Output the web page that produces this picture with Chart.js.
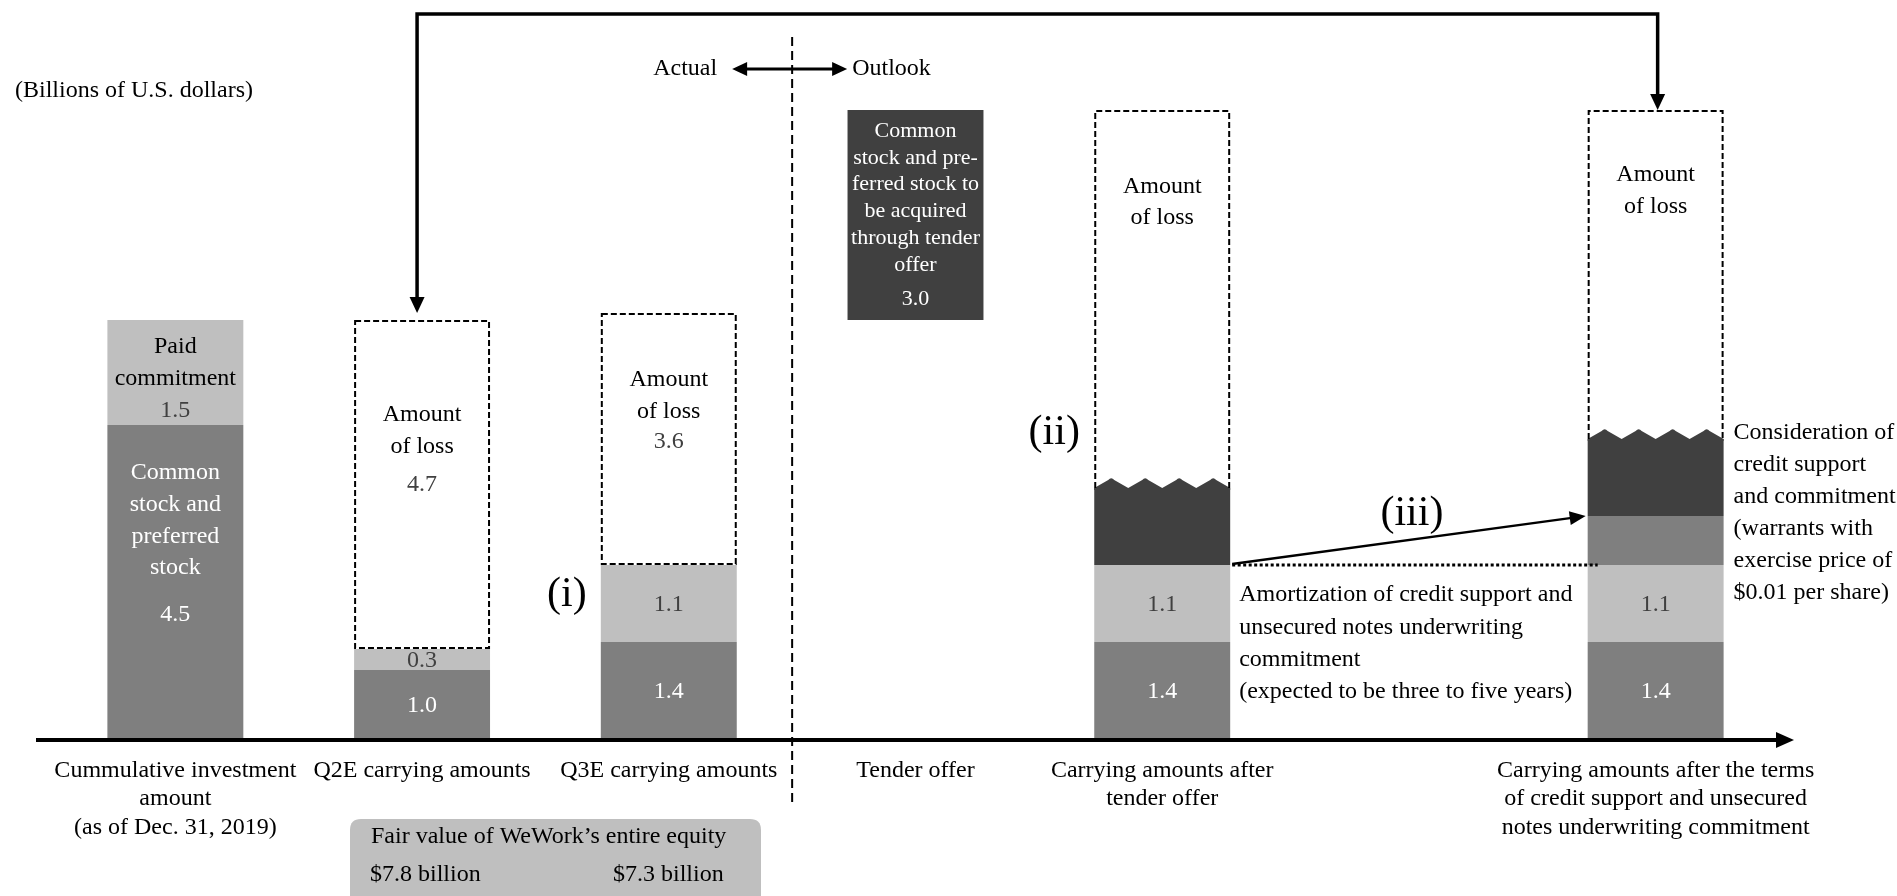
<!DOCTYPE html>
<html>
<head>
<meta charset="utf-8">
<script src="https://cdn.jsdelivr.net/npm/chart.js@4.4.1/dist/chart.umd.min.js"></script>
<style>
  html, body { margin: 0; padding: 0; background: #ffffff; }
  #wrap { width: 1897px; height: 896px; position: relative; }
</style>
</head>
<body>
<div id="wrap"><canvas id="chart"></canvas></div>
<script>
// Columns along the x axis (index 5 is an empty slot between the two outlook columns)
const categories = [
  ['Cummulative investment', 'amount', '(as of Dec. 31, 2019)'],
  'Q2E carrying amounts',
  'Q3E carrying amounts',
  'Tender offer',
  ['Carrying amounts after', 'tender offer'],
  '',
  ['Carrying amounts after the terms', 'of credit support and unsecured', 'notes underwriting commitment']
];

// Billions of U.S. dollars, stacked bottom to top in this order
const commonPreferred = [4.5, 1.0, 1.4, null, 1.4, null, 1.4];
const paidCommitment  = [1.5, 0.3, 1.1, null, 1.1, null, 1.1];
const warrantValue    = [null, null, null, null, null, null, 0.7];
const tenderStock     = [null, null, null, 3.0, 1.1, null, 1.1];
const lossAmount      = [null, 4.7, 3.6, null, 5.4, null, 4.7];

// The tender offer column sits on top of the investment made so far
const tenderBase = 6.0;
const tenderCol = 3;

// Fair value of WeWork's entire equity (Q2E, Q3E)
const fairValues = ['$7.8 billion', '$7.3 billion'];

const seriesOrder = [commonPreferred, paidCommitment, warrantValue, tenderStock, lossAmount];
const seriesColors = ['#7f7f7f', '#bfbfbf', '#7f7f7f', '#404040', 'rgba(0,0,0,0)'];
const seriesNames = ['Common stock and preferred stock', 'Paid commitment', 'Warrants', 'Stock acquired through tender offer', 'Amount of loss'];

// Turn the stacked values into floating [start, end] ranges per column
const ranges = seriesOrder.map(() => []);
for (let c = 0; c < categories.length; c++) {
  let start = c === tenderCol ? tenderBase : 0;
  seriesOrder.forEach((arr, s) => {
    const v = arr[c];
    if (v === null || v === undefined) { ranges[s].push(null); return; }
    const end = Math.round((start + v) * 100) / 100;
    ranges[s].push([start, end]);
    start = end;
  });
}

const SERIF = '"Liberation Serif", "Times New Roman", serif';
const DS = { common: 0, paid: 1, warrant: 2, tender: 3, loss: 4 };

function seg(chart, ds, col) {
  const el = chart.getDatasetMeta(ds).data[col];
  const p = el.getProps(['x', 'y', 'base', 'width'], true);
  return { x: p.x, top: Math.min(p.y, p.base), bottom: Math.max(p.y, p.base),
           left: p.x - p.width / 2, right: p.x + p.width / 2, w: p.width };
}

function drawText(ctx, s, x, y, size, color, align) {
  ctx.font = size + 'px ' + SERIF;
  ctx.fillStyle = color;
  ctx.textAlign = align || 'center';
  ctx.textBaseline = 'middle';
  ctx.fillText(s, x, y);
}

function arrowHead(ctx, tipX, tipY, angle, len, half) {
  ctx.save();
  ctx.translate(tipX, tipY);
  ctx.rotate(angle);
  ctx.beginPath();
  ctx.moveTo(0, 0);
  ctx.lineTo(-len, -half);
  ctx.lineTo(-len, half);
  ctx.closePath();
  ctx.fillStyle = '#000';
  ctx.fill();
  ctx.restore();
}

const fmt = v => v.toFixed(1);

// Text blocks written inside the bars: first line offset from the segment top, then line gaps
const barNotes = [
  { col: 0, ds: DS.paid, dy: 27, lines: [['Paid', '#000'], ['commitment', '#000'], [fmt(paidCommitment[0]), '#404040']], gaps: [32, 32] },
  { col: 0, ds: DS.common, dy: 48, lines: [['Common', '#fff'], ['stock and', '#fff'], ['preferred', '#fff'], ['stock', '#fff'], [fmt(commonPreferred[0]), '#fff']], gaps: [32, 32, 31, 47] },
  { col: 1, ds: DS.loss, dy: 95, lines: [['Amount', '#000'], ['of loss', '#000'], [fmt(lossAmount[1]), '#404040']], gaps: [32, 38] },
  { col: 2, ds: DS.loss, dy: 67, lines: [['Amount', '#000'], ['of loss', '#000'], [fmt(lossAmount[2]), '#404040']], gaps: [32, 30] },
  { col: 3, ds: DS.tender, dy: 21, size: 22, lines: [['Common', '#fff'], ['stock and pre-', '#fff'], ['ferred stock to', '#fff'], ['be acquired', '#fff'], ['through tender', '#fff'], ['offer', '#fff'], [fmt(tenderStock[3]), '#fff']], gaps: [26.8, 26.8, 26.8, 26.8, 26.8, 34] },
  { col: 4, ds: DS.loss, dy: 77, lines: [['Amount', '#000'], ['of loss', '#000']], gaps: [31] },
  { col: 6, ds: DS.loss, dy: 65, lines: [['Amount', '#000'], ['of loss', '#000']], gaps: [32] }
];

// Single values centred in their segment
const centredValues = [
  { col: 1, ds: DS.paid, arr: paidCommitment, color: '#404040' },
  { col: 1, ds: DS.common, arr: commonPreferred, color: '#fff' },
  { col: 2, ds: DS.paid, arr: paidCommitment, color: '#404040' },
  { col: 2, ds: DS.common, arr: commonPreferred, color: '#fff' },
  { col: 4, ds: DS.paid, arr: paidCommitment, color: '#404040' },
  { col: 4, ds: DS.common, arr: commonPreferred, color: '#fff' },
  { col: 6, ds: DS.paid, arr: paidCommitment, color: '#404040' },
  { col: 6, ds: DS.common, arr: commonPreferred, color: '#fff' }
];

const annotations = {
  id: 'annotations',
  afterDatasetsDraw(chart) {
    const ctx = chart.ctx;
    const xs = chart.scales.x;
    const area = chart.chartArea;
    ctx.save();

    // Wavy top edge of the stock segments carried after the tender offer
    [4, 6].forEach(col => {
      const s = seg(chart, DS.tender, col);
      const b = s.top, q = s.w / 4;
      ctx.beginPath();
      ctx.moveTo(s.left, b + 2);
      ctx.lineTo(s.left, b);
      for (let i = 0; i < 4; i++) {
        const x0 = s.left + i * q;
        ctx.lineTo(x0 + q / 2 - 3, b - 8);
        ctx.quadraticCurveTo(x0 + q / 2, b - 11.5, x0 + q / 2 + 3, b - 8);
        ctx.lineTo(x0 + q, b);
      }
      ctx.lineTo(s.right, b + 2);
      ctx.closePath();
      ctx.fillStyle = '#404040';
      ctx.fill();
    });

    // Dashed outlines of the loss amounts
    ctx.strokeStyle = '#000';
    ctx.lineWidth = 2;
    ctx.setLineDash([6, 3]);
    [1, 2, 4, 6].forEach(col => {
      const s = seg(chart, DS.loss, col);
      const l = s.left + 1, r = s.right - 1, t = s.top + 1, b = s.bottom;
      ctx.beginPath();
      if (col === 1 || col === 2) {
        ctx.rect(l, t, r - l, b - t - 1);
      } else {
        ctx.moveTo(l, b);
        ctx.lineTo(l, t);
        ctx.lineTo(r, t);
        ctx.lineTo(r, b);
      }
      ctx.stroke();
    });
    ctx.setLineDash([]);

    // Text inside bars
    barNotes.forEach(n => {
      const s = seg(chart, n.ds, n.col);
      let y = s.top + n.dy;
      n.lines.forEach((ln, i) => {
        drawText(ctx, ln[0], s.x, y, n.size || 24, ln[1]);
        if (i < n.gaps.length) y += n.gaps[i];
      });
    });
    centredValues.forEach(v => {
      const s = seg(chart, v.ds, v.col);
      drawText(ctx, fmt(v.arr[v.col]), s.x, (s.top + s.bottom) / 2 + 1, 24, v.color);
    });

    // (i), (ii) markers
    const q3Paid = seg(chart, DS.paid, 2);
    drawText(ctx, '(i)', q3Paid.left - 34, (q3Paid.top + q3Paid.bottom) / 2 - 9, 42, '#000');
    const afterTender = seg(chart, DS.tender, 4);
    drawText(ctx, '(ii)', afterTender.left - 40, afterTender.top - 55, 42, '#000');

    // (iii) amortization arrow and dotted reference line
    const paid4 = seg(chart, DS.paid, 4);
    const warr6 = seg(chart, DS.warrant, 6);
    const paid6 = seg(chart, DS.paid, 6);
    ctx.strokeStyle = '#000';
    ctx.lineWidth = 3;
    ctx.setLineDash([3, 2.5]);
    ctx.beginPath();
    ctx.moveTo(paid4.right + 2, paid4.top);
    ctx.lineTo(paid6.left + 10, paid6.top);
    ctx.stroke();
    ctx.setLineDash([]);
    const ax0 = paid4.right + 2, ay0 = paid4.top - 1;
    const ax1 = warr6.left - 2, ay1 = warr6.top;
    const ang = Math.atan2(ay1 - ay0, ax1 - ax0);
    ctx.lineWidth = 2.5;
    ctx.beginPath();
    ctx.moveTo(ax0, ay0);
    ctx.lineTo(ax1 - 14 * Math.cos(ang), ay1 - 14 * Math.sin(ang));
    ctx.stroke();
    arrowHead(ctx, ax1, ay1, ang, 16, 7);
    drawText(ctx, '(iii)', xs.getPixelForValue(5) + 3, (ay0 + ay1) / 2 - 26, 42, '#000');

    // Explanatory notes beside the outlook bars
    const amort = ['Amortization of credit support and', 'unsecured notes underwriting', 'commitment', '(expected to be three to five years)'];
    amort.forEach((t, i) => drawText(ctx, t, paid4.right + 9, paid4.top + 30 + i * 32.3, 24, '#000', 'left'));
    const dark6 = seg(chart, DS.tender, 6);
    const consider = ['Consideration of', 'credit support', 'and commitment', '(warrants with', 'exercise price of', '$0.01 per share)'];
    consider.forEach((t, i) => drawText(ctx, t, dark6.right + 10, dark6.top - 6 + i * 32, 24, '#000', 'left'));

    // Connector from the Q2E loss to the final loss
    const loss1 = seg(chart, DS.loss, 1);
    const loss6 = seg(chart, DS.loss, 6);
    const lx = loss1.x - 5, rx = loss6.x + 2, topY = 14;
    ctx.lineWidth = 3.5;
    ctx.beginPath();
    ctx.moveTo(lx, loss1.top - 20);
    ctx.lineTo(lx, topY);
    ctx.lineTo(rx, topY);
    ctx.lineTo(rx, loss6.top - 14);
    ctx.stroke();
    arrowHead(ctx, lx, loss1.top - 7, Math.PI / 2, 16, 7.5);
    arrowHead(ctx, rx, loss6.top, Math.PI / 2, 16, 7.5);

    // Actual / Outlook divider
    const divX = xs.getPixelForValue(2.5);
    ctx.lineWidth = 2;
    ctx.setLineDash([9, 5]);
    ctx.beginPath();
    ctx.moveTo(divX, 37);
    ctx.lineTo(divX, 802);
    ctx.stroke();
    ctx.setLineDash([]);
    ctx.lineWidth = 3;
    ctx.beginPath();
    ctx.moveTo(divX - 48, 69);
    ctx.lineTo(divX + 45, 69);
    ctx.stroke();
    arrowHead(ctx, divX - 60, 69, Math.PI, 15, 7);
    arrowHead(ctx, divX + 55, 69, 0, 15, 7);
    drawText(ctx, 'Actual', divX - 75, 69, 24, '#000', 'right');
    drawText(ctx, 'Outlook', divX + 60, 69, 24, '#000', 'left');

    drawText(ctx, '(Billions of U.S. dollars)', 15, 91, 24, '#000', 'left');

    // Horizontal axis with arrow
    const axY = area.bottom;
    ctx.lineWidth = 4;
    ctx.beginPath();
    ctx.moveTo(area.left - 16, axY);
    ctx.lineTo(area.right, axY);
    ctx.stroke();
    arrowHead(ctx, area.right + 15, axY, 0, 18, 8);

    // Fair value box under the Q2E / Q3E columns
    const bx = 350, bw = 411, by = 819, bh = 100, rr = 11;
    ctx.beginPath();
    ctx.moveTo(bx + rr, by);
    ctx.lineTo(bx + bw - rr, by);
    ctx.quadraticCurveTo(bx + bw, by, bx + bw, by + rr);
    ctx.lineTo(bx + bw, by + bh - rr);
    ctx.quadraticCurveTo(bx + bw, by + bh, bx + bw - rr, by + bh);
    ctx.lineTo(bx + rr, by + bh);
    ctx.quadraticCurveTo(bx, by + bh, bx, by + bh - rr);
    ctx.lineTo(bx, by + rr);
    ctx.quadraticCurveTo(bx, by, bx + rr, by);
    ctx.fillStyle = '#bfbfbf';
    ctx.fill();
    drawText(ctx, 'Fair value of WeWork\u2019s entire equity', 371, 837, 24, '#000', 'left');
    drawText(ctx, fairValues[0], 370, 875, 24, '#000', 'left');
    drawText(ctx, fairValues[1], 613, 875, 24, '#000', 'left');

    ctx.restore();
  }
};

new Chart(document.getElementById('chart'), {
  type: 'bar',
  data: {
    labels: categories,
    datasets: seriesOrder.map((_, s) => ({
      label: seriesNames[s],
      data: ranges[s],
      backgroundColor: seriesColors[s],
      borderWidth: 0,
      grouped: false,
      barPercentage: 0.551,
      categoryPercentage: 1.0
    }))
  },
  options: {
    responsive: true,
    maintainAspectRatio: false,
    animation: false,
    layout: { padding: { left: 52, right: 118, top: 40, bottom: 0 } },
    plugins: { legend: { display: false }, tooltip: { enabled: false } },
    scales: {
      x: {
        offset: true,
        grid: { display: false, drawTicks: false },
        border: { display: false },
        ticks: {
          autoSkip: false,
          maxRotation: 0,
          minRotation: 0,
          padding: 16,
          color: '#000',
          font: { family: SERIF, size: 24, lineHeight: 1.2 }
        },
        afterFit: scale => { scale.height = 156; }
      },
      y: {
        display: false,
        min: 0,
        max: 10
      }
    }
  },
  plugins: [annotations]
});
</script>
</body>
</html>
